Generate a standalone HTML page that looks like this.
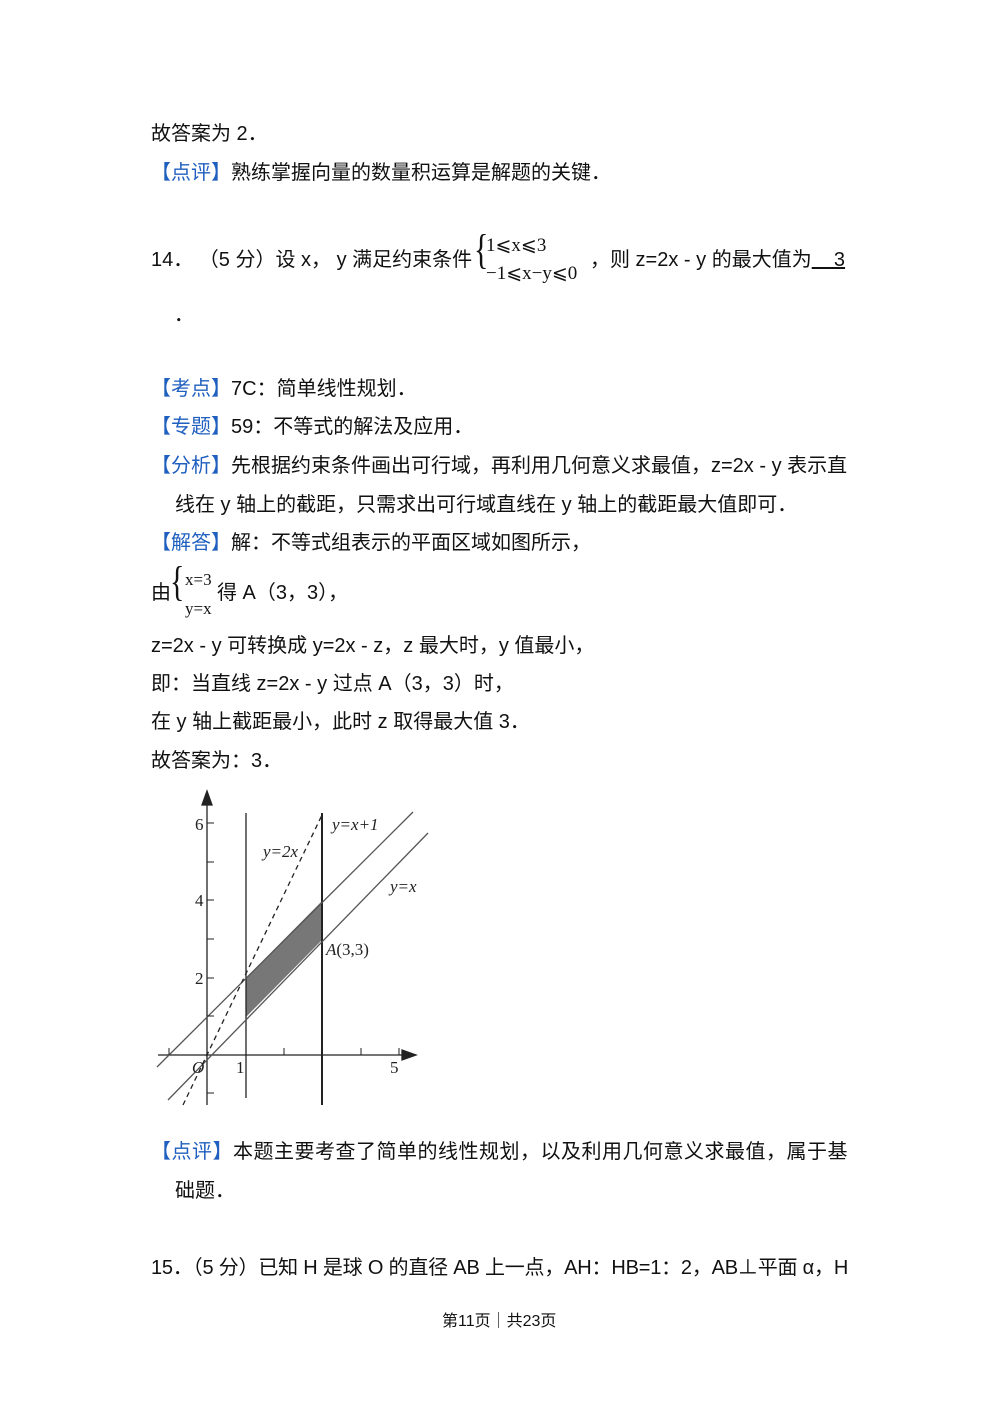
<!DOCTYPE html>
<html><head><meta charset="utf-8"><style>
body{margin:0;background:#fff;}
.p{position:relative;width:1000px;height:1414px;font-family:"Liberation Sans","Noto Sans CJK SC",sans-serif;color:#111;font-size:20px;}
.l{position:absolute;left:151px;white-space:nowrap;line-height:24px;}
.b{color:#1f5fbf;}
.m{font-family:"Liberation Serif",serif;}
</style></head><body><div class="p">
<div class="l" style="top:122px">故答案为 2．</div>
<div class="l" style="top:161px"><span class="b">【点评】</span>熟练掌握向量的数量积运算是解题的关键．</div>
<div class="l" style="top:248px">14．&nbsp;（5 分）设 x，&nbsp;y 满足约束条件</div>
<div style="position:absolute;left:474px;top:234px;font-size:30px;font-family:'Liberation Serif',serif;transform:scaleY(1.4)">{</div>
<div class="m" style="position:absolute;left:486px;top:234px;font-size:19px">1⩽x⩽3</div>
<div class="m" style="position:absolute;left:486px;top:262px;font-size:19px">−1⩽x−y⩽0</div>
<div class="l" style="top:248px;left:590px">，则 z=2x - y 的最大值为<span style="text-decoration:underline">&nbsp;&nbsp;&nbsp;&nbsp;3</span></div>
<div class="l" style="top:303px;left:174px">．</div>
<div class="l" style="top:377px"><span class="b">【考点】</span>7C：简单线性规划．</div>
<div class="l" style="top:415px"><span class="b">【专题】</span>59：不等式的解法及应用．</div>
<div class="l" style="top:454px"><span class="b">【分析】</span>先根据约束条件画出可行域，再利用几何意义求最值，z=2x - y 表示直</div>
<div class="l" style="top:493px;left:175px">线在 y 轴上的截距，只需求出可行域直线在 y 轴上的截距最大值即可．</div>
<div class="l" style="top:531px"><span class="b">【解答】</span>解：不等式组表示的平面区域如图所示，</div>
<div class="l" style="top:581px">由</div>
<div style="position:absolute;left:170px;top:566px;font-size:30px;font-family:'Liberation Serif',serif;transform:scaleY(1.4)">{</div>
<div class="m" style="position:absolute;left:185px;top:570px;font-size:17px">x=3</div>
<div class="m" style="position:absolute;left:185px;top:599px;font-size:17px">y=x</div>
<div class="l" style="top:581px;left:217px">得 A（3，3），</div>
<div class="l" style="top:634px">z=2x - y 可转换成 y=2x - z，z 最大时，y 值最小，</div>
<div class="l" style="top:672px">即：当直线 z=2x - y 过点 A（3，3）时，</div>
<div class="l" style="top:710px">在 y 轴上截距最小，此时 z 取得最大值 3．</div>
<div class="l" style="top:749px">故答案为：3．</div>
<svg style="position:absolute;left:0;top:0" width="1000" height="1414">
<g stroke="#222" fill="none" stroke-width="1.3">
<polygon points="246,978 322,901 322,940 246,1017" fill="#777" stroke="none"/>
<line x1="207" y1="1105" x2="207" y2="798"/>
<polygon points="207,791 202,805 212,805" fill="#222"/>
<line x1="158" y1="1055" x2="408" y2="1055"/>
<polygon points="416,1055 402,1050 402,1060" fill="#222"/>
<line x1="246" y1="813" x2="246" y2="1098"/>
<line x1="322" y1="813" x2="322" y2="1105" stroke-width="2"/>
<line x1="168" y1="1100" x2="428" y2="833" stroke="#555"/>
<line x1="157" y1="1067" x2="413" y2="812" stroke="#555"/>
<line x1="183" y1="1105" x2="322" y2="815" stroke-dasharray="5,4"/>
<g stroke-width="1"><line x1="207" y1="823" x2="214" y2="823"/><line x1="207" y1="862" x2="214" y2="862"/><line x1="207" y1="900" x2="214" y2="900"/><line x1="207" y1="939" x2="214" y2="939"/><line x1="207" y1="978" x2="214" y2="978"/><line x1="207" y1="1016" x2="214" y2="1016"/><line x1="207" y1="1093" x2="214" y2="1093"/>
<line x1="169" y1="1055" x2="169" y2="1048"/><line x1="246" y1="1055" x2="246" y2="1048"/><line x1="284" y1="1055" x2="284" y2="1048"/><line x1="361" y1="1055" x2="361" y2="1048"/><line x1="399" y1="1055" x2="399" y2="1048"/></g>
</g>
<g font-family="Liberation Serif,serif" font-size="17" fill="#222">
<text x="195" y="830">6</text><text x="195" y="906">4</text><text x="195" y="984">2</text>
<text x="192" y="1073" font-style="italic">O</text><text x="236" y="1073">1</text><text x="390" y="1073">5</text>
<text x="332" y="830" font-style="italic">y=x+1</text><text x="263" y="857" font-style="italic">y=2x</text>
<text x="390" y="892" font-style="italic">y=x</text><text x="326" y="955"><tspan font-style="italic">A</tspan>(3,3)</text>
</g>
</svg>
<div class="l" style="top:1140px;letter-spacing:0.5px"><span class="b">【点评】</span>本题主要考查了简单的线性规划，以及利用几何意义求最值，属于基</div>
<div class="l" style="top:1179px;left:175px">础题．</div>
<div class="l" style="top:1256px;letter-spacing:-0.2px">15．（5 分）已知 H 是球 O 的直径 AB 上一点，AH：HB=1：2，AB⊥平面 α，H</div>
<div class="l" style="top:1310px;left:442px;font-size:16px">第11页｜共23页</div>
</div></body></html>
